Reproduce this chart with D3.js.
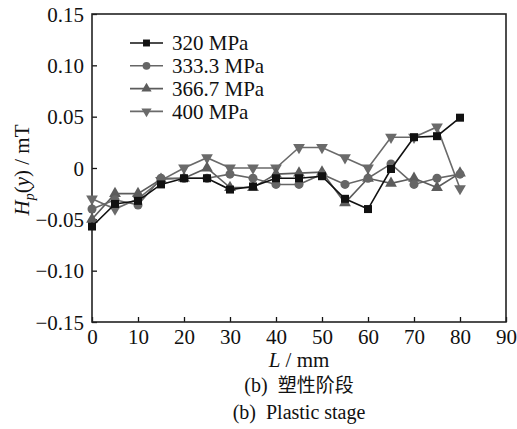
<!DOCTYPE html>
<html>
<head>
<meta charset="utf-8">
<script src="https://cdn.jsdelivr.net/npm/d3@7"></script>
<style>
  body { margin: 0; background: #fff; }
  svg text { font-family: "Liberation Serif", "Times New Roman", Tinos, "DejaVu Serif", "Noto Serif", serif !important; fill: #111; }
  svg text tspan.cjk { font-family: "Noto Sans CJK SC", "Noto Sans CJK JP", sans-serif !important; }
</style>
</head>
<body>
<script>
const width = 517;
const height = 429;

// data
const positions = [0, 5, 10, 15, 20, 25, 30, 35, 40, 45, 50, 55, 60, 65, 70, 75, 80];
const s320 = [-0.057, -0.035, -0.032, -0.016, -0.010, -0.010, -0.021, -0.018, -0.010, -0.010, -0.008, -0.030, -0.040, -0.001, 0.030, 0.031, 0.049];
const s333 = [-0.040, -0.031, -0.036, -0.010, -0.010, -0.010, -0.006, -0.010, -0.016, -0.016, -0.006, -0.016, -0.010, 0.004, -0.016, -0.010, -0.006];
const s366 = [-0.050, -0.025, -0.025, -0.011, -0.010, 0.000, -0.019, -0.019, -0.006, -0.005, -0.004, -0.034, -0.010, -0.015, -0.010, -0.019, -0.005];
const s400 = [-0.030, -0.040, -0.030, -0.012, 0.000, 0.010, 0.000, 0.000, 0.000, 0.020, 0.020, 0.010, 0.000, 0.030, 0.030, 0.040, -0.020];
const seriesNames = ['320 MPa', '333.3 MPa', '366.7 MPa', '400 MPa'];
const xTicks = [0, 10, 20, 30, 40, 50, 60, 70, 80, 90];
const yTicks = [-0.15, -0.10, -0.05, 0, 0.05, 0.10, 0.15];

const series = [
  { name: seriesNames[0], values: s320, color: '#111', symbol: d3.symbolSquare, size: 64 },
  { name: seriesNames[1], values: s333, color: '#666', symbol: d3.symbolCircle, size: 64 },
  { name: seriesNames[2], values: s366, color: '#5c5c5c', symbol: d3.symbolTriangle, size: 60, rot: 0 },
  { name: seriesNames[3], values: s400, color: '#6a6a6a', symbol: d3.symbolTriangle, size: 60, rot: 180 }
];

const margin = { left: 92, right: 11, top: 14, bottom: 107 };
const pw = width - margin.left - margin.right;
const ph = height - margin.top - margin.bottom;

const svg = d3.select('body').append('svg')
  .attr('width', width)
  .attr('height', height)
  .attr('font-family', 'Liberation Serif, Times New Roman, serif');

const x = d3.scaleLinear().domain([0, 90]).range([0, pw]);
const y = d3.scaleLinear().domain([-0.15, 0.15]).range([ph, 0]);

const g = svg.append('g')
  .attr('transform', `translate(${margin.left},${margin.top})`);

const fmtY = v => v === 0 ? '0' : (v < 0 ? '\u2212' : '') + Math.abs(v).toFixed(2);

// axes with inward ticks
const xAxis = g.append('g')
  .attr('transform', `translate(0,${ph})`)
  .call(d3.axisBottom(x).tickValues(xTicks).tickSizeInner(-5).tickSizeOuter(0).tickPadding(9));
const yAxis = g.append('g')
  .call(d3.axisLeft(y).tickValues(yTicks).tickSizeInner(-5).tickSizeOuter(0).tickPadding(8).tickFormat(fmtY));

[xAxis, yAxis].forEach(a => {
  a.attr('font-family', null);
  a.select('.domain').remove();
  a.selectAll('line').attr('stroke', '#111').attr('stroke-width', 1.3);
  a.selectAll('text').attr('font-size', 21).attr('fill', '#111');
});
yAxis.selectAll('text').attr('dy', '0.34em');
xAxis.selectAll('text').attr('dy', '0.62em');

// frame
g.append('rect')
  .attr('width', pw).attr('height', ph)
  .attr('fill', 'none').attr('stroke', '#222').attr('stroke-width', 1.6);

const line = d3.line()
  .x((d, i) => x(positions[i]))
  .y(d => y(d));

// draw from back to front
series.slice().reverse().forEach(s => {
  g.append('path')
    .datum(s.values)
    .attr('fill', 'none')
    .attr('stroke', s.color)
    .attr('stroke-width', 1.6)
    .attr('d', line);
  g.selectAll(null)
    .data(s.values)
    .enter().append('path')
    .attr('d', d3.symbol().type(s.symbol).size(s.size))
    .attr('fill', s.color)
    .attr('transform', (d, i) => `translate(${x(positions[i])},${y(d)}) rotate(${s.rot || 0})`);
});

// legend
const legend = g.append('g').attr('transform', 'translate(38,29)');
series.forEach((s, i) => {
  const row = legend.append('g').attr('transform', `translate(0,${i * 22.8})`);
  row.append('line')
    .attr('x1', 0).attr('x2', 33)
    .attr('stroke', s.color).attr('stroke-width', 1.6);
  row.append('path')
    .attr('d', d3.symbol().type(s.symbol).size(s.size * 0.75))
    .attr('fill', s.color)
    .attr('transform', `translate(16.5,0) rotate(${s.rot || 0})`);
  row.append('text')
    .attr('x', 42).attr('dy', '0.34em')
    .attr('font-size', 21)
    .text(s.name);
});

// axis titles
svg.append('text')
  .attr('x', margin.left + pw / 2).attr('y', 367)
  .attr('text-anchor', 'middle').attr('font-size', 21)
  .html('<tspan font-style="italic">L</tspan> / mm');

const yl = svg.append('text')
  .attr('transform', `translate(29,${margin.top + ph / 2 + 2}) rotate(-90)`)
  .attr('text-anchor', 'middle').attr('font-size', 21);
yl.append('tspan').attr('font-style', 'italic').text('H');
yl.append('tspan').attr('font-style', 'italic').attr('font-size', 14).attr('dy', 5).text('p');
yl.append('tspan').attr('dy', -5).text('(');
yl.append('tspan').attr('font-style', 'italic').text('y');
yl.append('tspan').text(') / mT');

// captions
svg.append('text')
  .attr('x', 299).attr('y', 392)
  .attr('text-anchor', 'middle').attr('font-size', 20)
  .html('(b)\u00a0\u00a0<tspan class="cjk" font-size="19">塑性阶段</tspan>');
svg.append('text')
  .attr('x', 299).attr('y', 419)
  .attr('text-anchor', 'middle').attr('font-size', 20)
  .text('(b)\u00a0\u00a0Plastic stage');
</script>
</body>
</html>
